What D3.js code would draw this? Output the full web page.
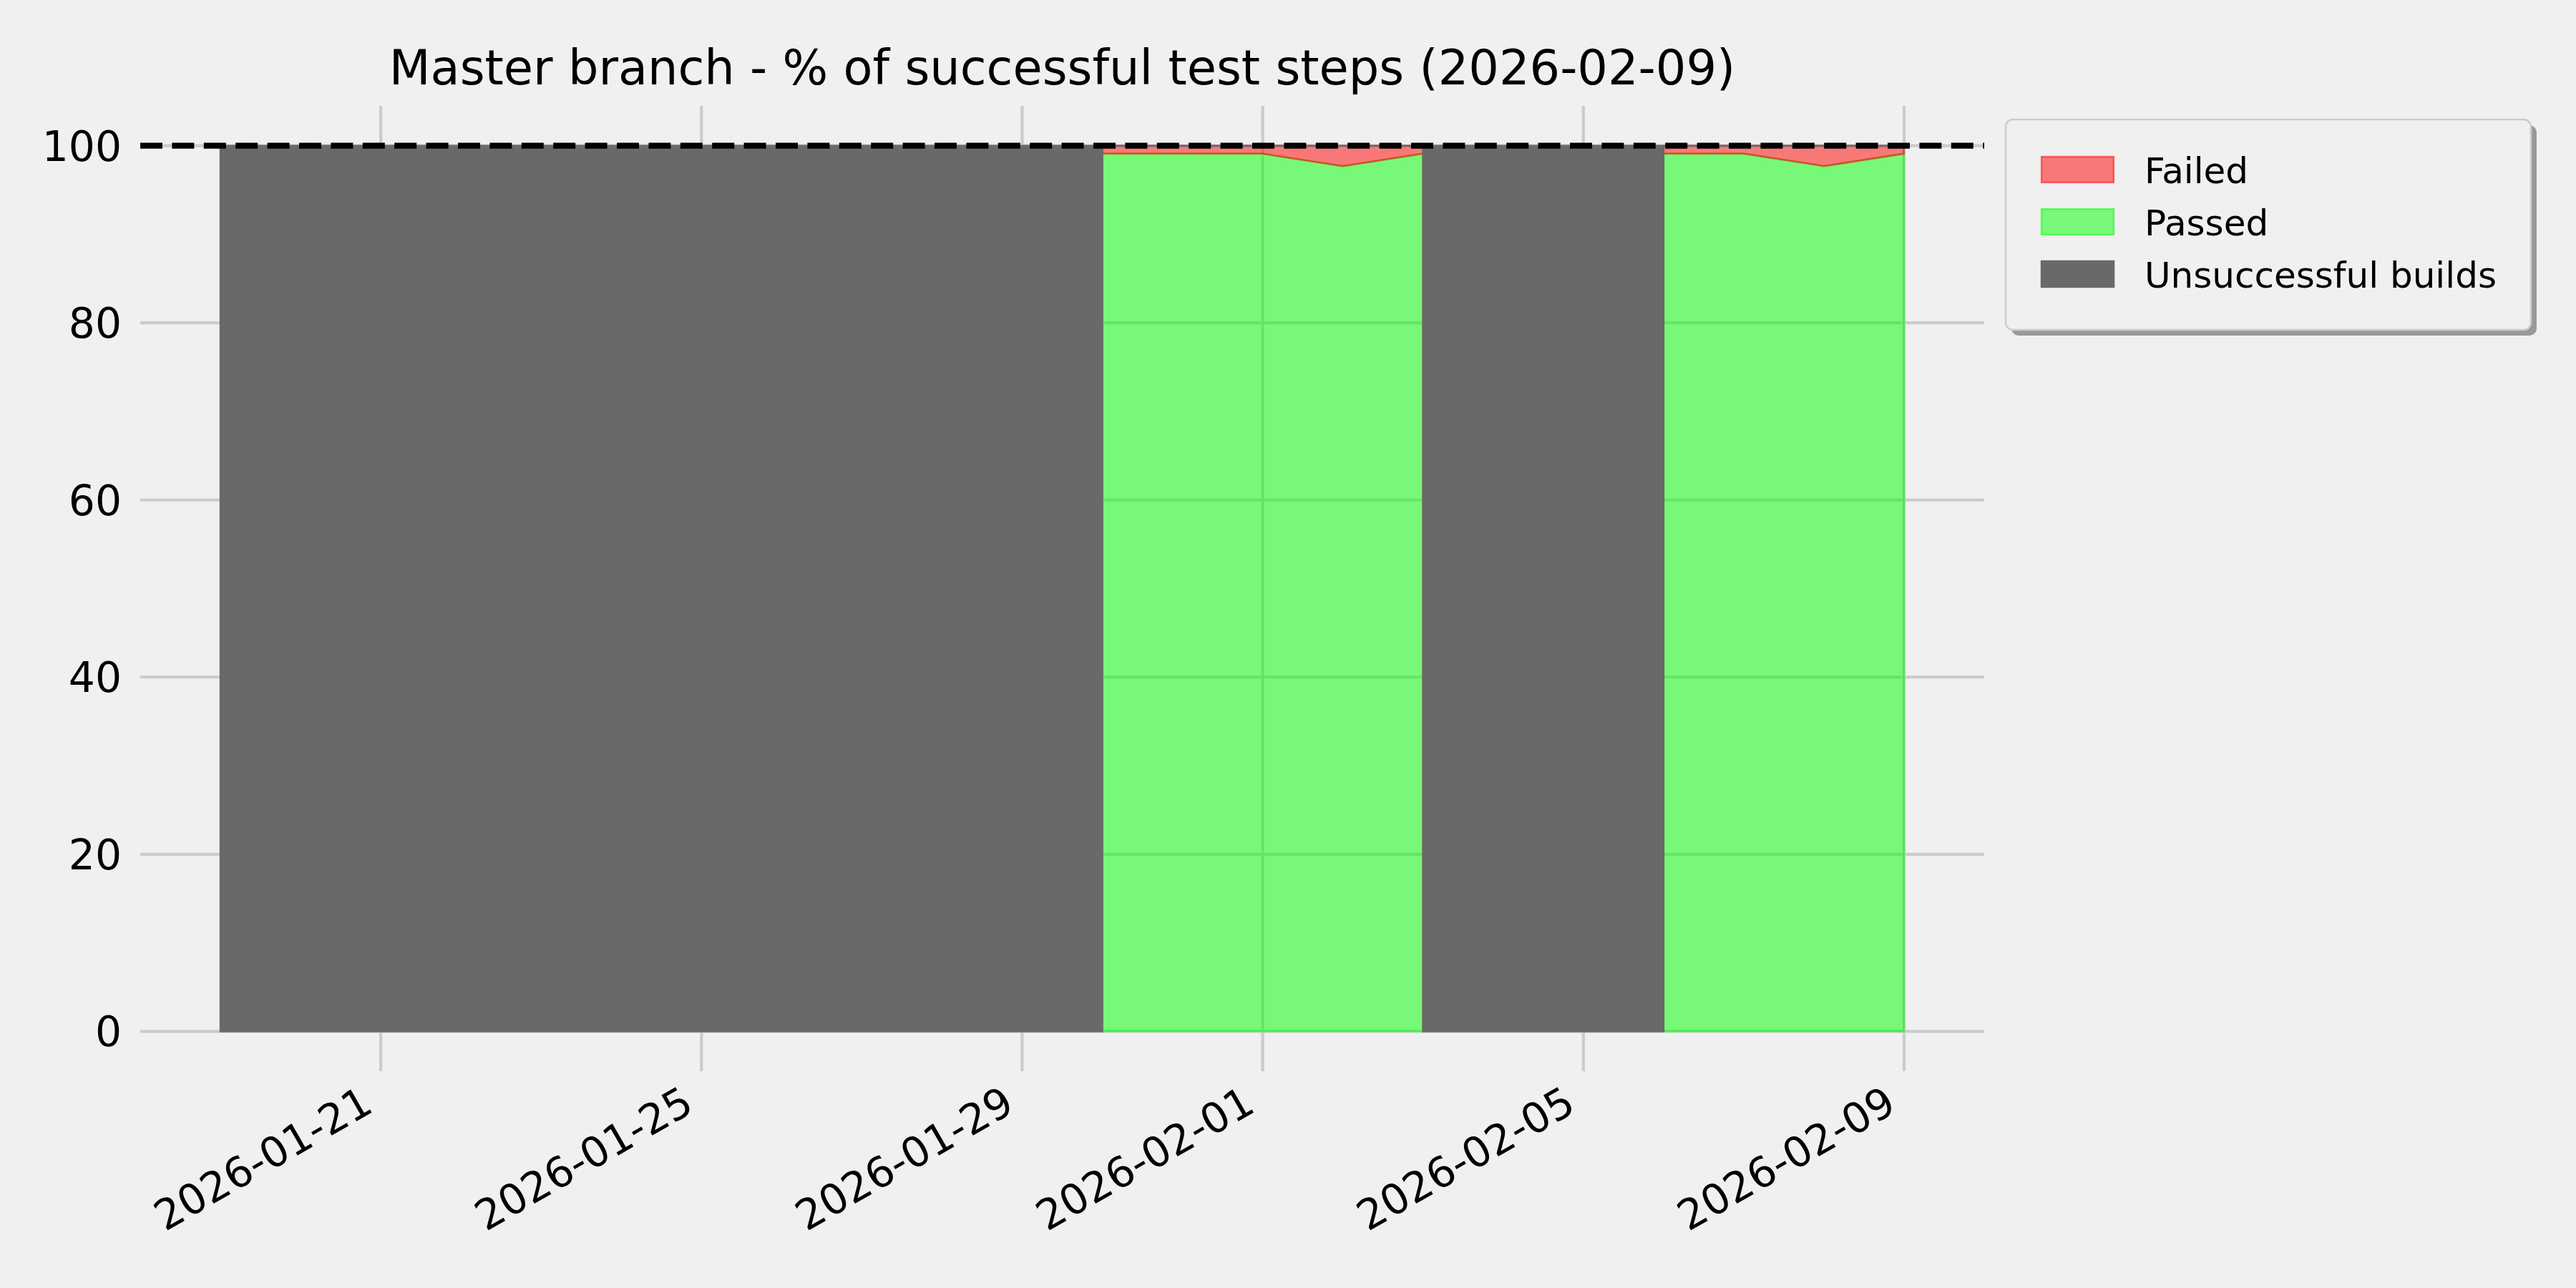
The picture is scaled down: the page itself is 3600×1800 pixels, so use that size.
<!DOCTYPE html>
<html><head><meta charset="utf-8">
<script src="https://cdn.jsdelivr.net/npm/d3@7"></script>
<style>html,body{margin:0;padding:0;background:#f0f0f0}</style>
</head><body><svg id="chart" width="3600" height="1800"></svg>
<script>
// ---- data ----
const dates = ["2026-01-19","2026-01-20","2026-01-21","2026-01-22","2026-01-23","2026-01-24","2026-01-25","2026-01-26","2026-01-27","2026-01-28","2026-01-29",
  "2026-01-30","2026-01-30","2026-01-31","2026-02-01","2026-02-02","2026-02-03",
  "2026-02-03","2026-02-04","2026-02-05","2026-02-06",
  "2026-02-06","2026-02-07","2026-02-08","2026-02-09"];
const unsuccessful = [100,100,100,100,100,100,100,100,100,100,100,
  100,0,0,0,0,0,
  100,100,100,100,
  0,0,0,0];
const passed = [0,0,0,0,0,0,0,0,0,0,0,
  0,99.1,99.1,99.1,97.7,99.1,
  0,0,0,0,
  99.1,99.1,97.7,99.1];
const failed = [0,0,0,0,0,0,0,0,0,0,0,
  0,0.9,0.9,0.9,2.3,0.9,
  0,0,0,0,
  0.9,0.9,2.3,0.9];
const legendLabels = ["Failed","Passed","Unsuccessful builds"];
const xTickLabels = ["2026-01-21","2026-01-25","2026-01-29","2026-02-01","2026-02-05","2026-02-09"];
const yTickValues = [0,20,40,60,80,100];
const xDomainLabels = ["2026-01-18","2026-02-10"];
const yDomain = [-4.5, 104.5];
const targetValue = 100;
const titleText = "Master branch - % of successful test steps (2026-02-09)";

(function(){
const parse = d3.timeParse("%Y-%m-%d");
const FONT = "DejaVu Sans, Verdana, sans-serif";
const svg = d3.select("#chart");
svg.append("rect").attr("width",3600).attr("height",1800).attr("fill","#f0f0f0");

const pLeft = 196, pRight = 2773, pTop = 148, pBottom = 1497;
const x = d3.scaleTime().domain(xDomainLabels.map(parse)).range([pLeft, pRight]);
const y = d3.scaleLinear().domain(yDomain).range([pBottom, pTop]);

const table = dates.map((d,i)=>({date: parse(d), passed: passed[i], failed: failed[i], unsuccessful: unsuccessful[i]}));
const keys = ["passed","failed","unsuccessful"];
const stacked = d3.stack().keys(keys)(table);

// grid
const grid = svg.append("g");
grid.selectAll(".hg").data(yTickValues).join("line")
  .attr("x1", pLeft).attr("x2", pRight)
  .attr("y1", d=>y(d)).attr("y2", d=>y(d))
  .attr("stroke","#cbcbcb").attr("stroke-width",4.2);
grid.selectAll(".vg").data(xTickLabels).join("line")
  .attr("x1", d=>x(parse(d))).attr("x2", d=>x(parse(d)))
  .attr("y1", pTop).attr("y2", pBottom)
  .attr("stroke","#cbcbcb").attr("stroke-width",4.2);

// areas
const styles = {
  passed: {fill:"#00ff00", fo:0.5, stroke:"#00ff00", so:0.5},
  failed: {fill:"#ff0000", fo:0.5, stroke:"#ff0000", so:0.5},
  unsuccessful: {fill:"#696969", fo:1, stroke:"#696969", so:1}
};
const area = d3.area().x(d=>x(d.data.date)).y0(d=>y(d[0])).y1(d=>y(d[1]));
svg.append("g").selectAll("path").data(stacked).join("path")
  .attr("d", area)
  .attr("fill", s=>styles[s.key].fill).attr("fill-opacity", s=>styles[s.key].fo)
  .attr("stroke", s=>styles[s.key].stroke).attr("stroke-opacity", s=>styles[s.key].so)
  .attr("stroke-width", 2.5);

// target dashed line
svg.append("line")
  .attr("x1", pLeft).attr("x2", pRight)
  .attr("y1", y(targetValue)).attr("y2", y(targetValue))
  .attr("stroke","#000").attr("stroke-width",8.3)
  .attr("stroke-dasharray","31,13.4");

// y tick labels
svg.append("g").selectAll("text").data(yTickValues).join("text")
  .attr("x", 170).attr("y", d=>y(d)+21)
  .attr("text-anchor","end")
  .attr("font-family",FONT).attr("font-size",58.3).attr("fill","#000")
  .text(d=>d3.format("d")(d));

// x tick labels
svg.append("g").selectAll("text").data(xTickLabels).join("text")
  .attr("transform", d=>`translate(${x(parse(d))-8},1552) rotate(-30)`)
  .attr("text-anchor","end")
  .attr("font-family",FONT).attr("font-size",58.3).attr("fill","#000")
  .text(d=>d);

// title
svg.append("text")
  .attr("x",(pLeft+pRight)/2).attr("y",118)
  .attr("text-anchor","middle")
  .attr("font-family",FONT).attr("font-size",67).attr("fill","#000")
  .text(titleText);

// legend
const lg = svg.append("g");
lg.append("rect").attr("x",2811).attr("y",175).attr("width",734).attr("height",294)
  .attr("rx",10).attr("fill","#999999");
lg.append("rect").attr("x",2803).attr("y",167).attr("width",734).attr("height",294)
  .attr("rx",10).attr("fill","#f0f0f0").attr("stroke","#cccccc").attr("stroke-width",2.5);
const legendStyles = [styles.failed, styles.passed, styles.unsuccessful];
const items = lg.selectAll(".item").data(legendLabels).join("g")
  .attr("transform",(d,i)=>`translate(0,${219+i*73})`);
items.append("rect").attr("x",2853).attr("y",0).attr("width",101).attr("height",36)
  .attr("fill",(d,i)=>legendStyles[i].fill).attr("fill-opacity",(d,i)=>legendStyles[i].fo)
  .attr("stroke",(d,i)=>legendStyles[i].stroke).attr("stroke-opacity",(d,i)=>legendStyles[i].so)
  .attr("stroke-width",2.5);
items.append("text").attr("x",2997).attr("y",37)
  .attr("font-family",FONT).attr("font-size",50).attr("fill","#000")
  .text(d=>d);
})();
</script></body></html>
